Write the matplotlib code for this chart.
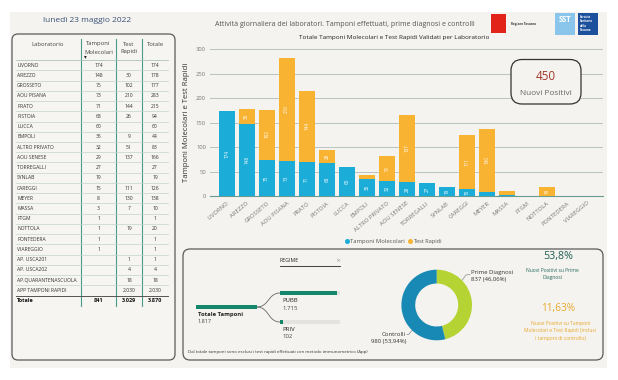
import matplotlib
matplotlib.use('Agg')
import matplotlib.pyplot as plt
from matplotlib.patches import FancyBboxPatch, Rectangle, PathPatch
from matplotlib.path import Path

plt.rcParams['font.family'] = ['Open Sans', 'DejaVu Sans']

# ---------------- data ----------------
date_title = "lunedì 23 maggio 2022"
labs = ["LIVORNO", "AREZZO", "GROSSETO", "AOU PISANA", "PRATO", "PISTOIA", "LUCCA",
        "EMPOLI", "ALTRO PRIVATO", "AOU SENESE", "TORREGALLI", "SYNLAB", "CAREGGI",
        "MEYER", "MASSA", "FTGM", "NOTTOLA", "PONTEDERA", "VIAREGGIO", "AP. USCA201",
        "AP. USCA202", "AP.QUARANTENASCUOLA", "APP TAMPONI RAPIDI"]
molecolari = [174, 148, 75, 73, 71, 68, 60, 35, 32, 29, 27, 19, 15, 8, 3, 1, 1, 1, 1,
              None, None, None, None]
rapidi = [None, 30, 102, 210, 144, 26, None, 9, 51, 137, None, None, 111, 130, 7, None,
          19, None, None, 1, 4, 18, 2030]
n_chart = 19  # laboratori mostrati nel grafico
tot_molecolari = 841
tot_rapidi = 3029
tot_totale = 3870

nuovi_positivi = 450
tree_totale = 1817
tree_pubb = 1715
tree_priv = 102
prime_diagnosi = 837
controlli = 980

C_BLUE = '#1badd8'
C_ORANGE = '#f8b333'
C_GREEN = '#14876a'
C_DON_G = '#b6d334'
C_DON_B = '#1789b4'


def fmt(v):
    if v is None:
        return ''
    return f"{v:,}".replace(',', '.')


fig = plt.figure(figsize=(6.18, 3.80), dpi=100)
fig.patch.set_facecolor('white')
R = fig.canvas.get_renderer()

bg = fig.add_axes([0, 0, 1, 1])
bg.set_xlim(0, 618)
bg.set_ylim(380, 0)
bg.axis('off')


def fit(ax, x, y, s, w, **kw):
    t = ax.text(x, y, s, fontsize=10, **kw)
    bb = t.get_window_extent(renderer=R)
    t.set_fontsize(10 * w / bb.width)
    return t


def T(ax, x, y, s, size, **kw):
    kw.setdefault('va', 'center')
    return ax.text(x, y, s, fontsize=size, **kw)


# page background
bg.add_patch(Rectangle((10, 12), 597, 356, fc='#f4f3ef', ec='none'))

# date title
fit(bg, 43, 20.5, date_title, 88, color='#3b5278', va='center', ha='left')

# ---------------- table ----------------
bg.add_patch(FancyBboxPatch((12, 34), 163, 326, boxstyle='round,pad=0,rounding_size=6',
                            ec='#5a5a5a', fc='#f6f5f2', lw=0.9))
cx = [98.5, 129, 155]
hc = '#444444'
T(bg, 48, 44, "Laboratorio", 4.2, ha='center', color=hc)
T(bg, cx[0], 44, "Tamponi", 4.2, ha='center', color=hc)
T(bg, cx[0], 52, "Molecolari", 4.2, ha='center', color=hc)
T(bg, cx[1], 44, "Test", 4.2, ha='center', color=hc)
T(bg, cx[1], 52, "Rapidi", 4.2, ha='center', color=hc)
T(bg, cx[2], 44, "Totale", 4.2, ha='center', color=hc)
T(bg, 85, 57, "▾", 4, ha='center', color='#222', family='DejaVu Sans')

for xl in [81, 116, 142]:
    bg.plot([xl, xl], [39, 306], color='#4c9a8a', lw=0.8)
bg.plot([16, 168], [60, 60], color='#aac4bc', lw=0.6)
y0, dy = 65.3, 10.23
for i, lab in enumerate(labs):
    y = y0 + i * dy
    T(bg, 17, y, lab, 3.6, ha='left', color='#333')
    m = molecolari[i]
    r = rapidi[i]
    tot = (m or 0) + (r or 0)
    T(bg, cx[0], y, fmt(m), 3.6, ha='center', color='#333')
    T(bg, cx[1], y, fmt(r), 3.6, ha='center', color='#333')
    T(bg, cx[2], y, fmt(tot), 3.6, ha='center', color='#333')
    if i < len(labs) - 1:
        bg.plot([16, 168], [y + dy / 2, y + dy / 2], color='#c2d4ce', lw=0.5)
bg.plot([16, 168], [295.8, 295.8], color='#555', lw=0.7)
yt = 301
T(bg, 17, yt, "Totale", 4.0, ha='left', color='#111', weight='bold')
T(bg, cx[0], yt, fmt(tot_molecolari), 4.0, ha='center', color='#111', weight='bold')
T(bg, cx[1], yt, fmt(tot_rapidi), 4.0, ha='center', color='#111', weight='bold')
T(bg, cx[2], yt, fmt(tot_totale), 4.0, ha='center', color='#111', weight='bold')

# ---------------- headings / logos ----------------
fit(bg, 215, 25, "Attività giornaliera dei laboratori. Tamponi effettuati, prime diagnosi e controlli",
    256, color='#555', va='center', ha='left')
fit(bg, 299, 38, "Totale Tamponi Molecolari e Test Rapidi Validati per Laboratorio",
    190, color='#222', va='center', ha='left')
bg.add_patch(Rectangle((491, 14), 15, 19, fc='#e2231a', ec='none'))
T(bg, 511, 24, "Regione Toscana", 2.2, ha='left', color='#333', weight='bold')
bg.add_patch(Rectangle((555, 13), 20, 22, fc='#8ac6ec', ec='none'))
T(bg, 565, 19, "SST", 5.5, ha='center', color='white', weight='bold')
bg.add_patch(Rectangle((578, 13), 20, 22, fc='#1c4f9c', ec='none'))
for k, s in enumerate(["Servizio", "Sanitario", "della", "Toscana"]):
    T(bg, 580, 17 + k * 4.3, s, 2.1, ha='left', color='white', weight='bold')

# ---------------- bar chart ----------------
ax = fig.add_axes([210 / 618, (380 - 196.3) / 380, (603 - 210) / 618, (196.3 - 49.3) / 380])
ax.patch.set_visible(False)
xs = list(range(n_chart))
mol = [v or 0 for v in molecolari[:n_chart]]
rap = [v or 0 for v in rapidi[:n_chart]]
ax.bar(xs, mol, width=0.78, color=C_BLUE, zorder=3)
ax.bar(xs, rap, width=0.78, bottom=mol, color=C_ORANGE, zorder=3)
for i in xs:
    if mol[i] >= 14:
        ax.text(i, mol[i] / 2, str(mol[i]), rotation=90, ha='center', va='center',
                fontsize=3.3, color='white', zorder=4)
    if rap[i] >= 14:
        ax.text(i, mol[i] + rap[i] / 2, str(rap[i]), rotation=90, ha='center', va='center',
                fontsize=3.3, color='white', zorder=4)
ax.set_xlim(-0.835, 18.8)
ax.set_ylim(0, 300)
ax.set_yticks(range(0, 301, 50))
ax.grid(axis='y', color='#b8c4c0', lw=0.7, zorder=0)
for sp in ['top', 'right', 'left']:
    ax.spines[sp].set_visible(False)
ax.spines['bottom'].set_color('#6a9a94')
ax.spines['bottom'].set_linewidth(0.8)
ax.tick_params(axis='both', length=0, labelsize=4.2, colors='#777', pad=3)
ax.set_xticks(xs)
ax.set_xticklabels(labs[:n_chart], rotation=40, ha='right', rotation_mode='anchor')
ax.set_ylabel("Tamponi Molecolari e Test Rapidi", fontsize=5.6, color='#333', labelpad=4)

# legend
bg.plot([346.5], [241], 'o', ms=2.6, color=C_BLUE)
fit(bg, 350, 241, "Tamponi Molecolari", 54, color='#555', va='center', ha='left')
bg.plot([409.5], [241], 'o', ms=2.6, color=C_ORANGE)
fit(bg, 413, 241, "Test Rapidi", 29, color='#555', va='center', ha='left')

# ---------------- bottom panel ----------------
bg.add_patch(FancyBboxPatch((183, 249), 420, 111, boxstyle='round,pad=0,rounding_size=7',
                            ec='#5a5a5a', fc='#f4f3ef', lw=0.9))
fit(bg, 280, 261, "REGIME", 19, color='#222', va='center', ha='left')
bg.plot([280, 340], [265.5, 265.5], color='#222', lw=0.6)
T(bg, 338, 261, "×", 4.5, ha='center', color='#999', family='DejaVu Sans')

# decomposition tree
bar_len = 60
bg.add_patch(Rectangle((196, 304.8), 61, 4.4, fc=C_GREEN, ec='none'))
fit(bg, 198, 314.3, "Totale Tamponi", 45, color='#222', weight='bold', va='center', ha='left')
fit(bg, 198, 321.7, fmt(tree_totale), 14, color='#444', va='center', ha='left')
for (val, name, yb) in [(tree_pubb, "PUBB", 293), (tree_priv, "PRIV", 322)]:
    bg.add_patch(Rectangle((280, yb - 2), bar_len, 4, fc='#e3e3df', ec='none'))
    bg.add_patch(Rectangle((280, yb - 2), bar_len * val / tree_totale, 4, fc=C_GREEN, ec='none'))
    T(bg, 282, yb + 7.5, name, 4.3, ha='left', color='#222')
    T(bg, 282, yb + 15, fmt(val), 4.3, ha='left', color='#444')
    verts = [(257, 307), (269, 307), (268, yb), (280, yb)]
    bg.add_patch(PathPatch(Path(verts, [Path.MOVETO, Path.CURVE4, Path.CURVE4, Path.CURVE4]),
                           fc='none', ec='#666', lw=0.6))
fit(bg, 188, 352.3,
    "Dal totale tamponi sono esclusi i test rapidi effettuati con metodo immunometrico (App)",
    181, color='#333', va='center', ha='left')

# donut
dcx, dcy, half = 436.7, 305, 36
axd = fig.add_axes([(dcx - half) / 618, (380 - dcy - half) / 380, 2 * half / 618, 2 * half / 380])
axd.patch.set_visible(False)
axd.pie([prime_diagnosi, controlli], colors=[C_DON_G, C_DON_B], startangle=90,
        counterclock=False, radius=35.3 / half,
        wedgeprops=dict(width=(35.3 - 21.5) / half, edgecolor='none'))
axd.set_xlim(-1, 1)
axd.set_ylim(-1, 1)
axd.set_aspect('auto')
axd.axis('off')
tot_d = prime_diagnosi + controlli
p_prime = f"{prime_diagnosi / tot_d * 100:.2f}".replace('.', ',')
p_contr = f"{controlli / tot_d * 100:.2f}".replace('.', ',')
bg.plot([461.5, 466, 470], [281, 275, 274.5], color='#888', lw=0.5)
T(bg, 471, 272.3, "Prime Diagnosi", 4.3, ha='left', color='#333')
T(bg, 471, 279, f"{prime_diagnosi} ({p_prime}%)", 4.3, ha='left', color='#333')
bg.plot([407, 408.5, 412.5], [334.5, 334.5, 330], color='#888', lw=0.5)
T(bg, 406, 334, "Controlli", 4.3, ha='right', color='#333')
T(bg, 406, 342, f"{controlli} ({p_contr}%)", 4.3, ha='right', color='#333')

# KPIs
pct1 = f"{nuovi_positivi / prime_diagnosi * 100:.1f}".replace('.', ',') + "%"
pct2 = f"{nuovi_positivi / tot_totale * 100:.2f}".replace('.', ',') + "%"
fit(bg, 558, 257, pct1, 30, color='#1f5e51', va='center', ha='center')
T(bg, 552.5, 270.5, "Nuovi Positivi su Prime", 3.6, ha='center', color='#2a6b62')
T(bg, 552.5, 278, "Diagnosi", 3.6, ha='center', color='#2a6b62')
fit(bg, 558, 308, pct2, 34, color='#e9a82b', va='center', ha='center')
for k, s in enumerate(["Nuovi Positivi su Tamponi", "Molecolari e Test Rapidi (inclusi",
                       "i tamponi di controllo)"]):
    T(bg, 560.5, 323.3 + k * 7.5, s, 3.6, ha='center', color='#e9a82b')

# ---------------- foreground: Nuovi Positivi box ----------------
fg = fig.add_axes([0, 0, 1, 1])
fg.set_xlim(0, 618)
fg.set_ylim(380, 0)
fg.axis('off')
fg.patch.set_visible(False)
fg.add_patch(FancyBboxPatch((511, 59.5), 70, 44.5, boxstyle='round,pad=0,rounding_size=11',
                            ec='#333', fc='#f4f3ef', lw=0.9))
fit(fg, 545.8, 76.7, str(nuovi_positivi), 20, color='#a3392b', va='center', ha='center')
fit(fg, 545.8, 93.3, "Nuovi Positivi", 52, color='#666', va='center', ha='center')

fig.savefig('out.png', dpi=100, facecolor='white')
